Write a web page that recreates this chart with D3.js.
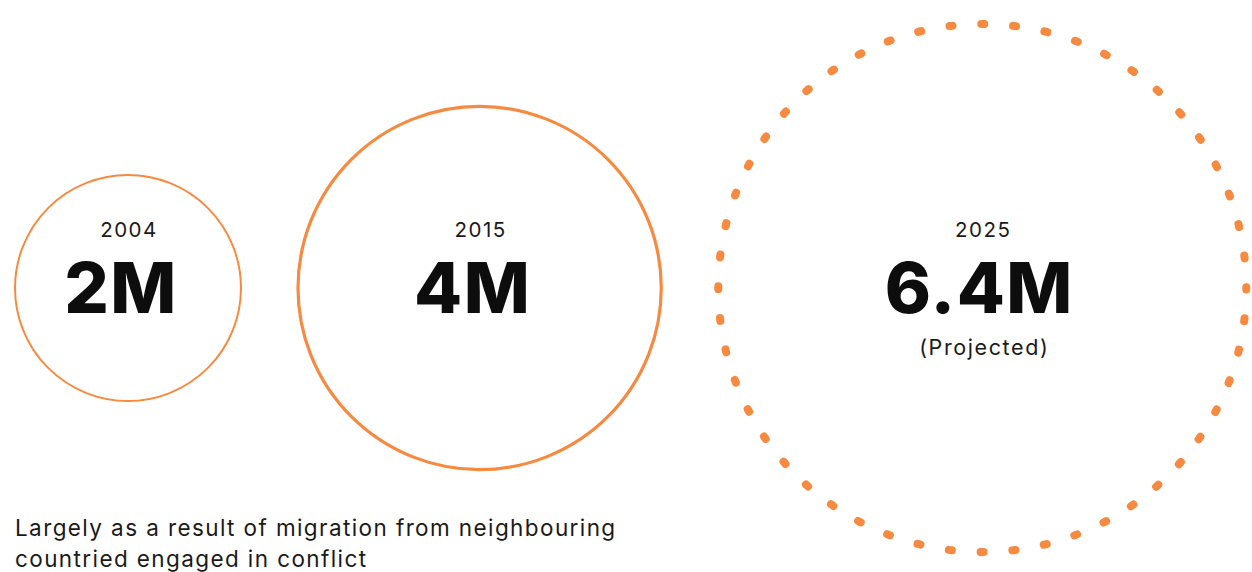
<!DOCTYPE html>
<html>
<head>
<meta charset="utf-8">
<script src="https://cdn.jsdelivr.net/npm/d3@7"></script>
<style>
  body { margin: 0; background: #fff; }
  text { font-family: Inter, "Open Sans", sans-serif; fill: #1a1a1a; }
</style>
</head>
<body>
<div id="chart"></div>
<script>
// data
var years = ["2004", "2015", "2025"];
var values = [2, 4, 6.4];
var valueLabels = ["2M", "4M", "6.4M"];
var notes = ["", "", "(Projected)"];
var projected = [false, false, true];
var captionLines = [
  "Largely as a result of migration from neighbouring",
  "countried engaged in conflict"
];

var svgWidth = 1252;
var svgHeight = 572;
var orange = "#f58a40";

var svg = d3.select("#chart")
  .append("svg")
  .attr("width", svgWidth)
  .attr("height", svgHeight);

// radius scale
var rScale = d3.scaleLinear()
  .domain(d3.extent(values))
  .range([113, 264]);

var gap = 57;
var startX = 15;
var centerY = 288;

// lay circles out side by side
var data = values.map(function(v, i) {
  return { year: years[i], value: v, label: valueLabels[i], note: notes[i], projected: projected[i], r: rScale(v) };
});
var x = startX;
data.forEach(function(d) {
  d.cx = x + d.r;
  x = d.cx + d.r + gap;
});

var groups = svg.selectAll("g.bubble")
  .data(data)
  .enter()
  .append("g")
  .attr("class", "bubble")
  .attr("transform", d => `translate(${d.cx}, ${centerY})`);

groups.append("circle")
  .attr("r", d => d.r)
  .attr("fill", "none")
  .attr("stroke", orange)
  .attr("stroke-width", d => d.projected ? 8 : d.r / 57)
  .attr("stroke-linecap", d => d.projected ? "round" : null)
  .attr("stroke-dasharray", function(d) {
    if (!d.projected) return null;
    var period = 2 * Math.PI * d.r / 52;
    return `3 ${period - 3}`;
  })
  .attr("stroke-dashoffset", d => d.projected ? 1.5 : null);

groups.append("text")
  .attr("text-anchor", "middle")
  .attr("y", -51)
  .attr("dx", 1)
  .attr("font-size", 20.5)
  .attr("letter-spacing", 1.5)
  .text(d => d.year);

groups.append("text")
  .attr("text-anchor", "middle")
  .attr("y", 25)
  .attr("dx", d => d.projected ? -3 : -7)
  .attr("font-size", 70)
  .attr("font-weight", 800)
  .attr("letter-spacing", 1.5)
  .style("fill", "#0d0d0d")
  .text(d => d.label);

groups.append("text")
  .attr("text-anchor", "middle")
  .attr("y", 67)
  .attr("dx", 2)
  .attr("font-size", 21.5)
  .attr("letter-spacing", 1.6)
  .text(d => d.note);

// caption
svg.append("text")
  .attr("x", 15)
  .attr("y", 536)
  .attr("font-size", 22.5)
  .attr("letter-spacing", 1.4)
  .selectAll("tspan")
  .data(captionLines)
  .enter()
  .append("tspan")
  .attr("x", 15)
  .attr("dy", (d, i) => i === 0 ? 0 : 31)
  .text(d => d);
</script>
</body>
</html>
